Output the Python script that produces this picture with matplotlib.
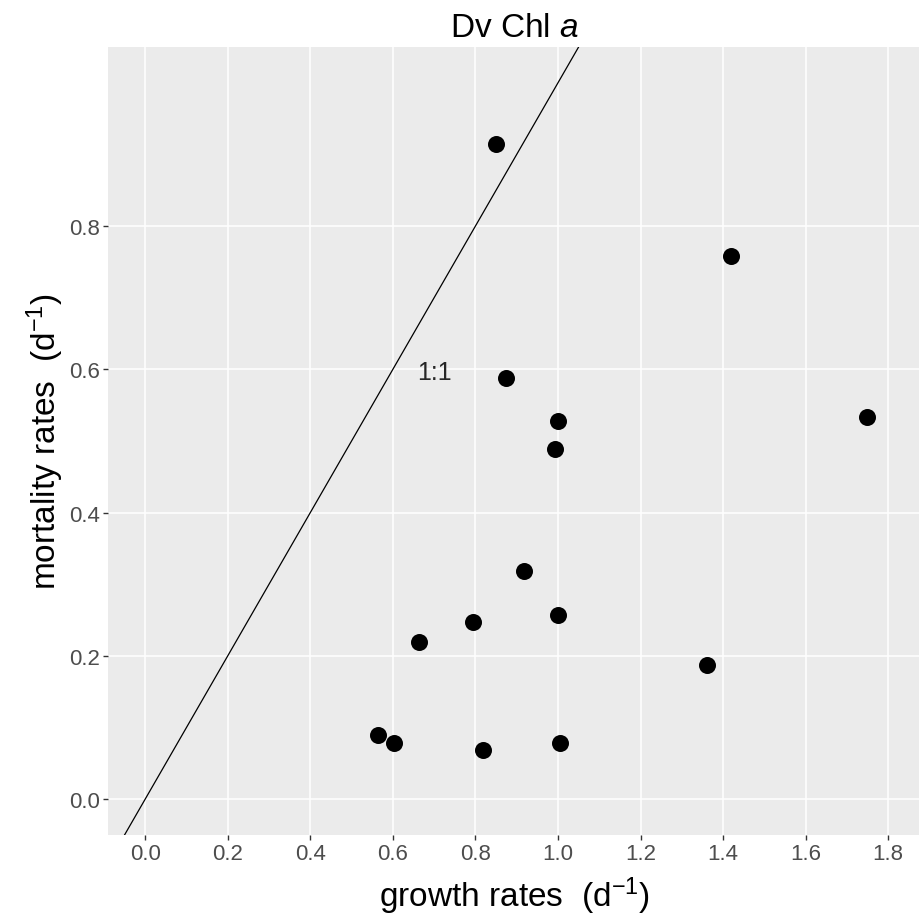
import matplotlib.pyplot as plt
import numpy as np

plt.rcParams['font.family'] = ['Liberation Sans', 'DejaVu Sans']
plt.rcParams['mathtext.fontset'] = 'custom'
plt.rcParams['mathtext.rm'] = 'Liberation Sans'
plt.rcParams['mathtext.it'] = 'Liberation Sans:italic'

# growth vs mortality rates (d^-1)
growth = [0.849, 1.419, 0.873, 1.001, 0.992, 1.748, 0.917, 1.001,
          0.795, 0.664, 1.361, 0.564, 0.603, 0.819, 1.004]
mortality = [0.915, 0.758, 0.588, 0.528, 0.489, 0.534, 0.318, 0.257,
             0.248, 0.219, 0.187, 0.089, 0.079, 0.069, 0.079]

x_ticks = [0.0, 0.2, 0.4, 0.6, 0.8, 1.0, 1.2, 1.4, 1.6, 1.8]
y_ticks = [0.0, 0.2, 0.4, 0.6, 0.8]

fig = plt.figure(figsize=(9.2, 9.2), dpi=100)
ax = fig.add_axes([108/920, 1 - 836/920, (920 - 108)/920, (836 - 48)/920])
ax.set_facecolor('#EBEBEB')

ax.set_xlim(-0.09, 1.877)
ax.set_ylim(-0.05, 1.05)
ax.set_xticks(x_ticks)
ax.set_yticks(y_ticks)
ax.set_xticklabels([f'{v:.1f}' for v in x_ticks])
ax.set_yticklabels([f'{v:.1f}' for v in y_ticks])
ax.grid(True, color='white', linewidth=1.1)
ax.set_axisbelow(True)
for s in ax.spines.values():
    s.set_visible(False)
ax.tick_params(colors='#333333', labelcolor='#4D4D4D', length=3.5, width=1,
               labelsize=16, pad=2.5)

# 1:1 line
ax.axline((0, 0), slope=1, color='black', linewidth=0.9, zorder=2)
ax.text(0.7, 0.596, '1:1', fontsize=18, color='#262626', ha='center', va='center')

ax.scatter(growth, mortality, s=150, color='black', zorder=3, linewidths=0)

ax.set_xlabel('growth rates  (d$^{-1}$)', fontsize=24, labelpad=7)
ax.set_ylabel('mortality rates  (d$^{-1}$)', fontsize=24, labelpad=2)
ax.set_title('Dv Chl $\\mathit{a}$', fontsize=24, pad=8)

fig.savefig('out.png', dpi=100)
